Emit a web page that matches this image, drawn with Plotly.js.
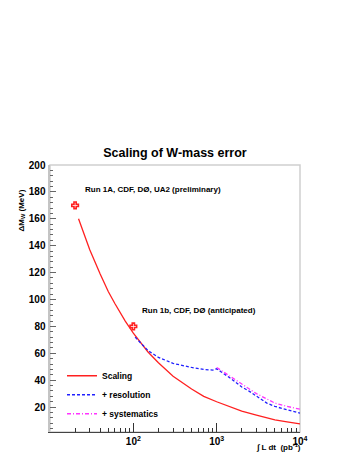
<!DOCTYPE html>
<html>
<head>
  <title>Scaling of W-mass error</title>
<script src="https://cdn.jsdelivr.net/npm/plotly.js-dist@3.0.1/plotly.min.js"></script>
<style>
  body { margin: 0; background: #fff; }
</style>
</head>
<body>
  <div id="graph"></div>
  <script>
    // integrated luminosity (pb^-1) and W-mass error (MeV)
    const scalingL = [22, 30, 40, 50, 60, 70, 80, 100, 150, 200, 300, 500, 700, 1000, 2000, 3000, 5000, 7000, 10000];
    const scalingM = [160, 137, 119, 106, 97, 90, 84, 75, 61, 53, 43, 33.5, 28, 24, 17, 14, 10.5, 9, 7.5];

    const resolL = [105, 150, 200, 300, 500, 700, 900, 1000, 1500, 2000, 2500, 3000, 4000, 5000, 7000, 10000];
    const resolM = [72, 62, 57, 52.5, 49.5, 48, 47.5, 48.5, 41, 35, 31.5, 28, 23, 20.5, 18, 15.5];

    const systL = [1000, 1500, 2000, 3000, 5000, 7000, 10000];
    const systM = [49.5, 42.5, 37, 30, 23, 20.5, 18.5];

    const measL = [20, 100];
    const measM = [170, 80];

    const minorVals = [];
    [10, 100, 1000].forEach(function (d) {
      for (let k = 2; k <= 9; k++) minorVals.push(k * d);
    });

    const font = { family: 'Liberation Sans, Arial, sans-serif', color: '#000', weight: 'bold' };

    const data = [
      { x: scalingL, y: scalingM, mode: 'lines', name: 'Scaling',
        line: { color: '#ff2020', width: 1.3 } },
      { x: resolL, y: resolM, mode: 'lines', name: '+ resolution',
        line: { color: '#2020ff', width: 1.3, dash: '3px,2px' } },
      { x: systL, y: systM, mode: 'lines', name: '+ systematics',
        line: { color: '#ff33ff', width: 1.3, dash: '4px,2px,1px,2px' } },
      { x: measL, y: measM, mode: 'markers', showlegend: false,
        marker: { symbol: 'cross-open', color: '#ff2020', size: 5.5, line: { color: '#ff2020', width: 1.6 } } }
    ];

    const layout = {
      width: 360, height: 466,
      margin: { l: 50, r: 60, t: 165, b: 34 },
      paper_bgcolor: '#fff', plot_bgcolor: '#fff',
      font: font,
      title: { text: 'Scaling of W-mass error', x: 0.486, xanchor: 'center',
        y: 1 - 153 / 466, yanchor: 'middle', font: Object.assign({}, font, { size: 12.5 }) },
      xaxis: {
        type: 'log', range: [1, 4],
        tickvals: [100, 1000, 10000],
        ticktext: ['10<sup>2</sup>', '10<sup>3</sup>', '10<sup>4</sup>'],
        ticks: 'inside', ticklen: 9, tickcolor: '#333',
        minor: { tickvals: minorVals, ticks: 'inside', ticklen: 4, tickcolor: '#333' },
        showgrid: false, zeroline: false,
        showline: true, linecolor: '#444', linewidth: 1,
        tickfont: Object.assign({}, font, { size: 10 })
      },
      yaxis: {
        range: [1.5, 200], tick0: 0, dtick: 20,
        ticks: 'inside', ticklen: 6, tickcolor: '#666',
        minor: { dtick: 4, ticks: 'inside', ticklen: 3, tickcolor: '#666' },
        showgrid: false, zeroline: false,
        showline: true, linecolor: '#c4c4c4', linewidth: 2.5,
        tickfont: Object.assign({}, font, { size: 10 })
      },
      shapes: [
        { type: 'rect', xref: 'paper', yref: 'paper', x0: 0, x1: 1, y0: 0, y1: 1,
          line: { color: '#cfcfcf', width: 1.5 }, layer: 'below' }
      ],
      legend: {
        x: 0.048, y: 0.265, xanchor: 'left', yanchor: 'top',
        bgcolor: 'rgba(0,0,0,0)', font: Object.assign({}, font, { size: 8.5 })
      },
      annotations: [
        { text: 'Run 1A, CDF, DØ, UA2 (preliminary)', xref: 'x', yref: 'y',
          x: Math.log10(25), y: 182, xanchor: 'left', yanchor: 'middle', showarrow: false,
          font: Object.assign({}, font, { size: 8 }) },
        { text: 'Run 1b, CDF, DØ (anticipated)', xref: 'x', yref: 'y',
          x: Math.log10(120), y: 91.5, xanchor: 'left', yanchor: 'middle', showarrow: false,
          font: Object.assign({}, font, { size: 8 }) },
        { text: '∫ L dt  (pb<sup>-1</sup>)', xref: 'paper', yref: 'paper',
          x: 1.01, y: -0.03, xanchor: 'right', yanchor: 'top', showarrow: false,
          font: Object.assign({}, font, { size: 8 }) },
        { text: 'ΔM<sub>W</sub> (MeV)', xref: 'paper', yref: 'paper', textangle: -90,
          x: -0.112, y: 0.83, xanchor: 'center', yanchor: 'middle', showarrow: false,
          font: Object.assign({}, font, { size: 8 }) }
      ]
    };

    Plotly.newPlot('graph', data, layout, { displayModeBar: false, staticPlot: true });
  </script>
</body>
</html>
